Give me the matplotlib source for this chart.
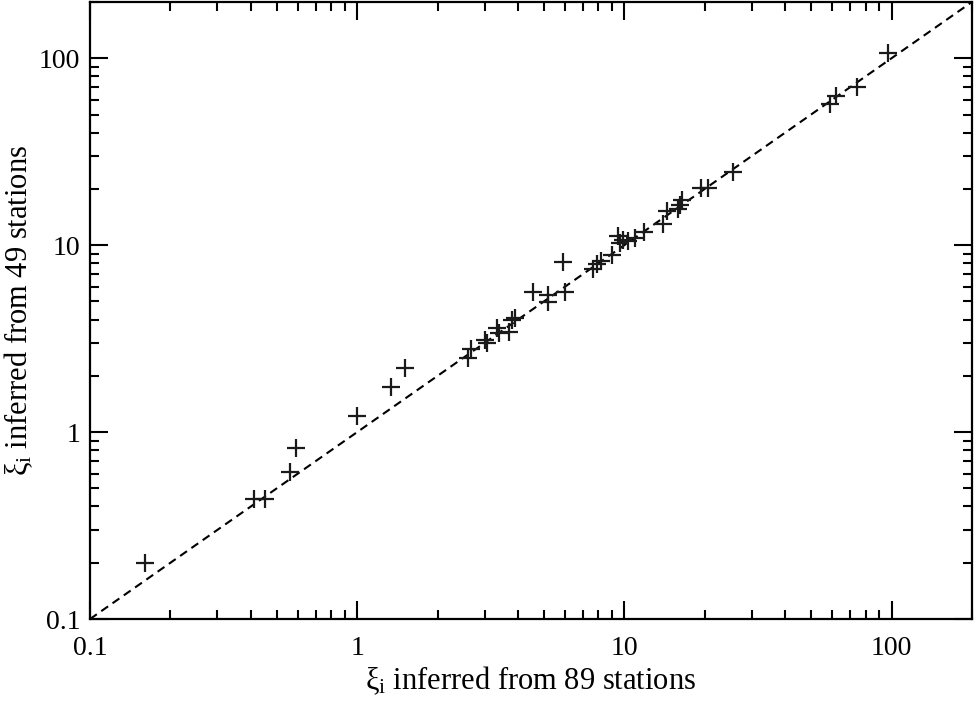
import numpy as np
import matplotlib
matplotlib.use('Agg')
import matplotlib.pyplot as plt
from matplotlib.ticker import LogLocator, FuncFormatter, NullFormatter

plt.rcParams['font.family'] = ['Liberation Serif', 'DejaVu Serif']
plt.rcParams['mathtext.fontset'] = 'custom'
plt.rcParams['mathtext.rm'] = 'Liberation Serif'
plt.rcParams['mathtext.it'] = 'Liberation Serif'
plt.rcParams['mathtext.bf'] = 'Liberation Serif'

# xi from 89 stations (x) vs xi from 49 stations (y)
xi_89 = [0.16, 0.41, 0.45, 0.56, 0.59, 1.0, 1.34, 1.51,
         2.6, 2.67, 3.0, 3.05, 3.35, 3.4, 3.7, 3.8, 3.9,
         4.55, 5.2, 5.2, 5.9, 6.0,
         7.6, 7.9, 8.2, 9.0, 9.5, 9.6, 9.9, 10.3, 11.0, 11.8,
         13.9, 14.5, 15.9, 16.2, 16.5, 19.3, 20.5, 25.5,
         59, 62, 74, 97]
xi_49 = [0.20, 0.44, 0.44, 0.61, 0.82, 1.22, 1.75, 2.2,
         2.5, 2.8, 3.1, 2.98, 3.6, 3.38, 3.45, 3.97, 4.1,
         5.65, 5.4, 4.98, 8.1, 5.65,
         7.5, 7.9, 8.2, 8.9, 11.2, 10.3, 10.6, 10.5, 10.9, 11.8,
         13.0, 15.3, 15.6, 16.4, 17.5, 20.2, 20.2, 24.5,
         57, 63, 70, 107]
lims = [0.1, 200]

fig = plt.figure(figsize=(9.74, 7.02), dpi=100)
ax = fig.add_axes([0.0924, 0.1182, 0.9055, 0.879])

ax.plot(lims, lims, color='k', ls=(0, (4, 2.6)), lw=1.5)
ax.plot(xi_89, xi_49, ls='none', marker='+', ms=13, mew=1.6, color='#1a1a1a')

ax.set_xscale('log')
ax.set_yscale('log')
ax.set_xlim(lims)
ax.set_ylim(lims)

fmt = FuncFormatter(lambda v, p: '%g' % v)
for axis in (ax.xaxis, ax.yaxis):
    axis.set_major_locator(LogLocator(base=10, numticks=10))
    axis.set_minor_locator(LogLocator(base=10, subs=np.arange(2, 10), numticks=20))
    axis.set_major_formatter(fmt)
    axis.set_minor_formatter(NullFormatter())

ax.tick_params(which='both', direction='in', top=True, right=True, width=1.5, labelsize=20)
ax.tick_params(which='major', length=13)
ax.tick_params(which='minor', length=6.5)
ax.tick_params(axis='x', pad=12)
ax.tick_params(axis='y', pad=7)
for s in ax.spines.values():
    s.set_linewidth(1.6)

ax.set_xlabel(r'$\xi_{i}$ inferred from 89 stations', fontsize=22, labelpad=3)
ax.set_ylabel(r'$\xi_{i}$ inferred from 49 stations', fontsize=22, labelpad=3)

fig.savefig('out.png', dpi=100)
